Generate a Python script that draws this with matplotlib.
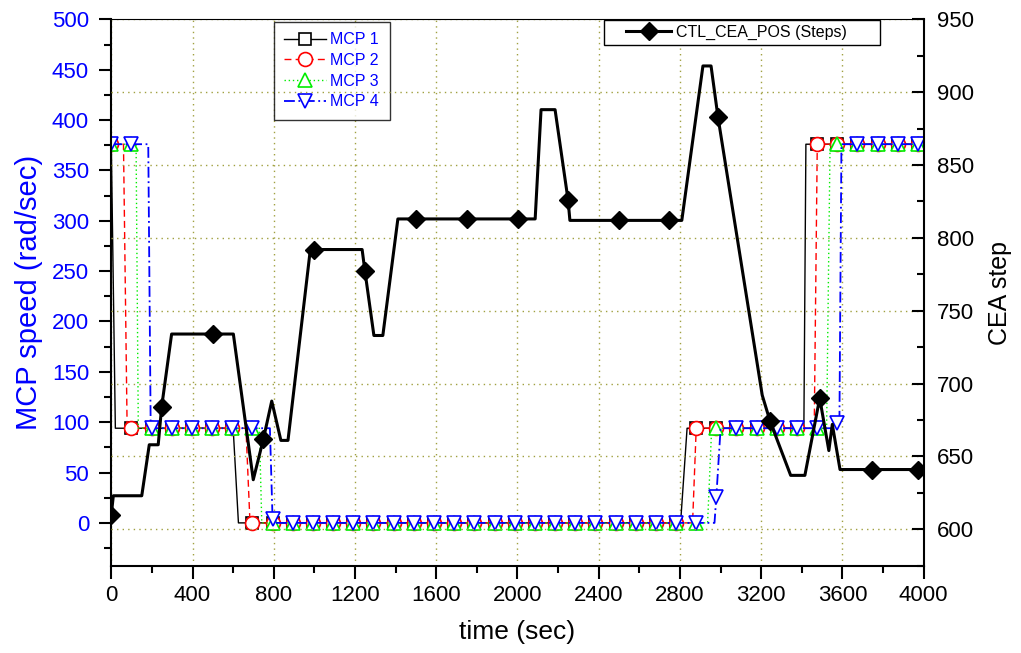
import numpy as np
import matplotlib
matplotlib.use("Agg")
import matplotlib.pyplot as plt
from matplotlib.ticker import MultipleLocator
from matplotlib.patches import Rectangle

plt.rcParams['font.family'] = ['Liberation Sans', 'DejaVu Sans']

# ---- data ----
# times where the MCP symbols sit
mark_t = [0, 99, 199, 298, 397, 497, 596, 695, 794, 894, 993, 1092, 1192, 1291,
          1390, 1490, 1589, 1688, 1787, 1887, 1986, 2085, 2185, 2284, 2383, 2483,
          2582, 2681, 2780, 2880, 2979, 3078, 3178, 3277, 3376, 3476, 3575, 3674,
          3773, 3873, 3972]

H, M, L = 376, 94, 0   # high / mid / stopped speed levels

mcp1_mk = [H] + [M] * 6 + [L] * 22 + [M] * 6 + [H] * 6
mcp2_mk = [H] + [M] * 6 + [L] * 22 + [M] * 6 + [H] * 6
mcp3_mk = [H, H] + [M] * 6 + [L] * 22 + [M] * 6 + [H] * 5
mcp4_mk = [H, H] + [M] * 6 + [4] + [L] * 21 + [26] + [M] * 5 + [99] + [H] * 4

# line vertices (speed traces)
mcp1_t = [0, 20, 600, 626, 2803, 2835, 3410, 3420, 3972]
mcp1_v = [376, 94, 94, 0, 0, 94, 94, 376, 376]
mcp2_t = [0, 60, 78, 663, 683, 2862, 2880, 3461, 3476, 3972]
mcp2_v = [376, 376, 94, 94, 0, 0, 94, 94, 376, 376]
mcp3_t = [0, 122, 133, 729, 741, 2936, 2956, 3522, 3539, 3972]
mcp3_v = [376, 376, 94, 94, 0, 0, 94, 94, 376, 376]
mcp4_t = [0, 182, 194, 781, 794, 810, 2970, 2979, 3000, 3553, 3585, 3595, 3972]
mcp4_v = [376, 376, 94, 94, 4, 0, 0, 26, 94, 94, 99, 376, 376]

# CEA position trace
cea_t = [0, 10, 150, 187, 231, 248, 297, 601, 699, 749, 790, 835, 870, 980,
         1235, 1249, 1293, 1337, 1411, 2087, 2116, 2185, 2249, 2258, 2809, 2913,
         2953, 2987, 3205, 3244, 3345, 3415, 3488, 3533, 3550, 3588, 3972]
cea_v = [610, 623, 623, 658, 658, 684, 734, 734, 634, 662, 688, 661, 661, 792,
         792, 777, 733, 733, 813, 813, 888, 888, 826, 812, 812, 918,
         918, 883, 692, 674, 637, 637, 690, 654, 672, 641, 641]
cea_mk_t = [0, 248, 502, 749, 998, 1249, 1500, 1751, 2002, 2249, 2499, 2746,
            2987, 3244, 3488, 3745, 3972]
cea_mk_v = [610, 684, 734, 662, 792, 777, 813, 813, 813, 826, 812, 812,
            883, 674, 690, 641, 641]

fig = plt.figure(figsize=(10.21, 6.53), dpi=100)
ax1 = fig.add_axes([0.109, 0.1337, 0.7957, 0.8367])
ax2 = ax1.twinx()

series = [
    (mcp1_t, mcp1_v, mcp1_mk, 'black', '-', 's', 8, 1.0, 'MCP 1'),
    (mcp2_t, mcp2_v, mcp2_mk, 'red', (0, (5, 3)), 'o', 10, 1.0, 'MCP 2'),
    (mcp3_t, mcp3_v, mcp3_mk, '#00ee00', (0, (1, 2)), '^', 10, 1.0, 'MCP 3'),
    (mcp4_t, mcp4_v, mcp4_mk, 'blue', (0, (6, 2, 1, 2)), 'v', 10, 1.3, 'MCP 4'),
]
handles = []
for t, v, mk, c, ls, m, ms, lw, lab in series:
    ax1.plot(t, v, color=c, ls=ls, lw=lw)
    ax1.plot(mark_t, mk, ls='none', marker=m, ms=ms, mfc='white', mec=c, mew=1.2)
    h, = ax1.plot([], [], color=c, ls=ls, lw=lw, marker=m, ms=ms,
                  mfc='white', mec=c, mew=1.2, label=lab)
    handles.append(h)

ax2.plot(cea_t, cea_v, color='black', lw=2.2)
ax2.plot(cea_mk_t, cea_mk_v, ls='none', marker='D', ms=9, color='black')
h2, = ax2.plot([], [], color='black', lw=2.2, marker='D', ms=9,
               label='CTL_CEA_POS (Steps)')

ax1.set_xlim(0, 4000)
ax1.set_ylim(-42.5, 500)
ax2.set_ylim(575, 950)

ax1.xaxis.set_major_locator(MultipleLocator(400))
ax1.xaxis.set_minor_locator(MultipleLocator(200))
ax1.yaxis.set_major_locator(MultipleLocator(50))
ax1.yaxis.set_minor_locator(MultipleLocator(25))
ax2.yaxis.set_major_locator(MultipleLocator(50))
ax2.yaxis.set_minor_locator(MultipleLocator(25))
ax2.set_yticks([600, 650, 700, 750, 800, 850, 900, 950])

ax1.tick_params(axis='x', which='major', direction='out', length=9, width=1.5,
                labelsize=16, pad=5, top=False)
ax1.tick_params(axis='x', which='minor', direction='out', length=5, width=1.5, top=False)
ax1.tick_params(axis='y', which='major', direction='out', length=9, width=1.5,
                labelsize=16, labelcolor='blue', pad=7, right=False)
ax1.tick_params(axis='y', which='minor', direction='out', length=5, width=1.5, right=False)
ax2.tick_params(axis='y', which='major', direction='in', length=9, width=1.5,
                labelsize=16, pad=9.5)
ax2.tick_params(axis='y', which='minor', direction='in', length=5, width=1.5)

for s in ['left', 'bottom']:
    ax1.spines[s].set_linewidth(1.5)
ax1.spines['top'].set_visible(False)
ax1.spines['right'].set_visible(False)
for s in ['left', 'bottom']:
    ax2.spines[s].set_visible(False)
ax2.spines['top'].set_linewidth(0.8)
ax2.spines['right'].set_linewidth(1.5)

ax1.grid(axis='x', color='#a0a040', ls=(0, (1, 3)), lw=1.0)
ax2.grid(axis='y', color='#a0a040', ls=(0, (1, 3)), lw=1.0)

ax1.set_xlabel('time (sec)', fontsize=19, labelpad=10)
ax1.set_ylabel('MCP speed (rad/sec)', fontsize=21, color='blue', labelpad=6)
ax2.set_ylabel('CEA step', fontsize=18, labelpad=10)

leg1 = ax1.legend(handles=handles, loc='upper left', bbox_to_anchor=(0.2, 0.995),
                  fontsize=11.5, handlelength=2.6, labelspacing=0.35, frameon=True,
                  fancybox=False, borderpad=0.65, handletextpad=0.3, borderaxespad=0)
leg1.get_frame().set_edgecolor('black')
leg1.get_frame().set_linewidth(1.0)
for txt in leg1.get_texts():
    txt.set_color('blue')

# second legend: Origin-style wide box drawn as its own frame
ax2.add_patch(Rectangle((0.607, 0.953), 0.339, 0.046, transform=ax2.transAxes,
                        facecolor='white', edgecolor='black', lw=1.0, zorder=4))
leg2 = ax2.legend(handles=[h2], loc='center left', bbox_to_anchor=(0.634, 0.976),
                  fontsize=11.5, handlelength=2.8, frameon=False,
                  borderpad=0, handletextpad=0.3, borderaxespad=0)
leg2.set_zorder(5)

fig.savefig('out.png', dpi=100)
